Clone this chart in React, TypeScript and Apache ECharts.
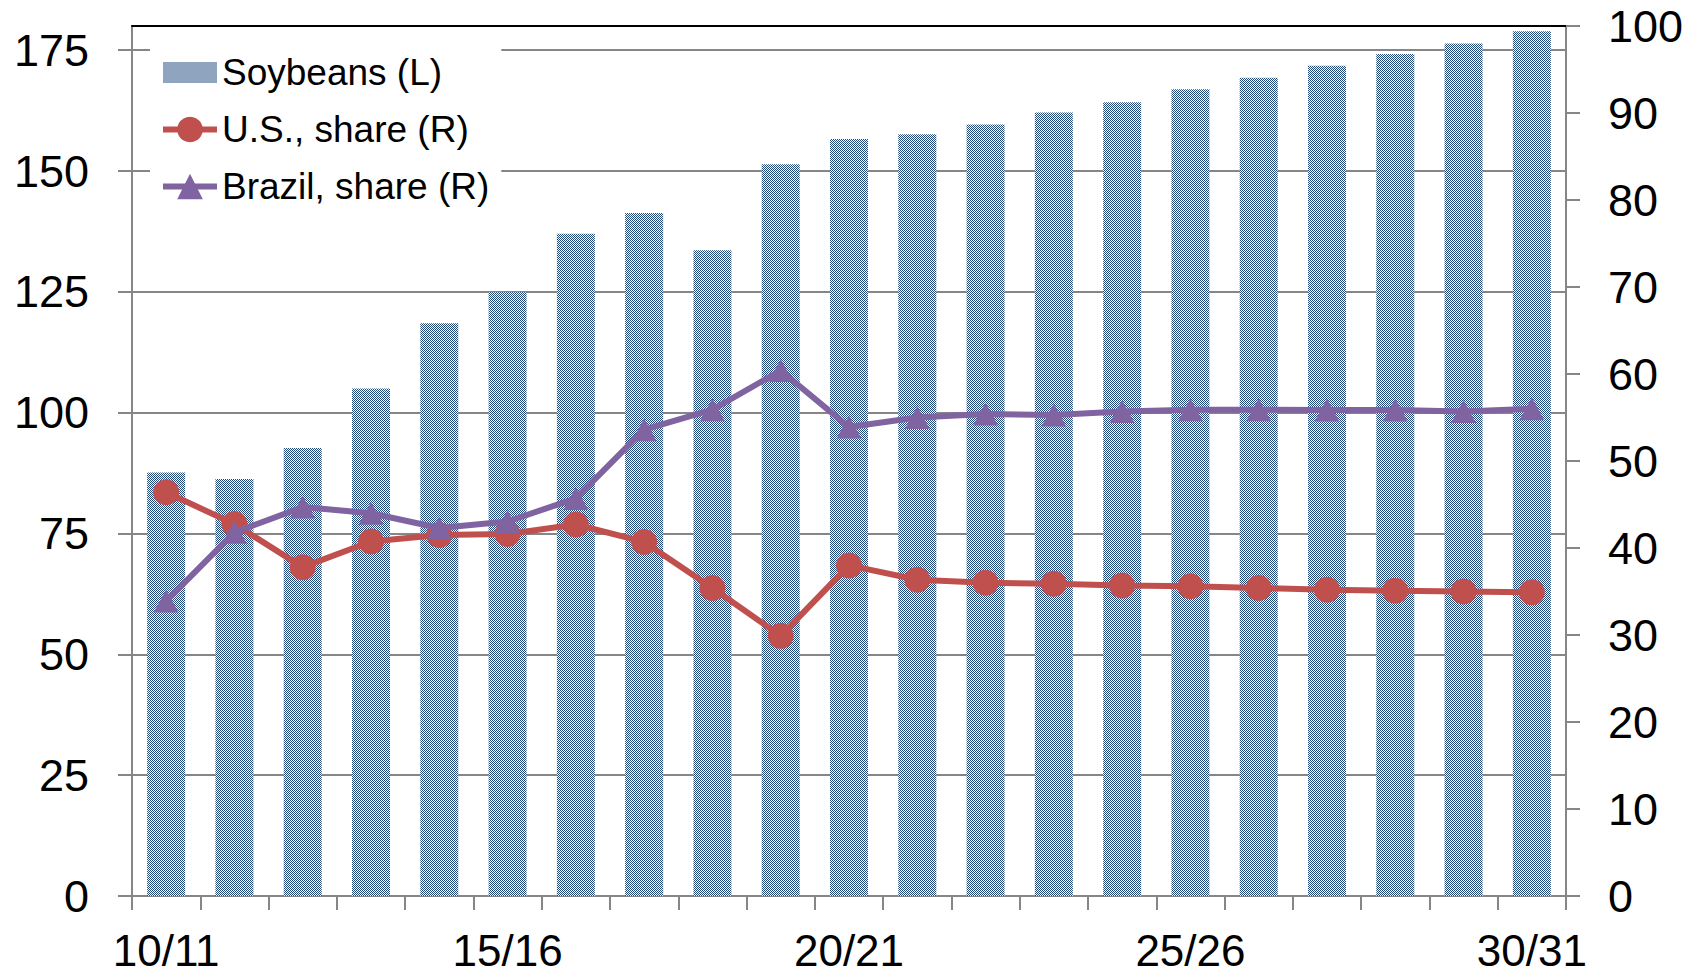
import React, { useEffect, useRef } from "react";
import * as echarts from "echarts";

const categories = [
  "10/11", "11/12", "12/13", "13/14", "14/15", "15/16", "16/17", "17/18", "18/19", "19/20", "20/21",
  "21/22", "22/23", "23/24", "24/25", "25/26", "26/27", "27/28", "28/29", "29/30", "30/31",
];
const soybeans = [
  87.6, 86.3, 92.7, 105.0, 118.5, 124.9, 137.0, 141.3, 133.6, 151.4, 156.6,
  157.6, 159.6, 162.1, 164.2, 166.9, 169.3, 171.8, 174.2, 176.4, 178.9,
];
const usShare = [
  46.4, 42.75, 37.8, 40.75, 41.5, 41.6, 42.7, 40.7, 35.4, 29.9, 38.0,
  36.35, 36.0, 35.9, 35.7, 35.6, 35.4, 35.2, 35.1, 35.0, 34.9,
];
const brazilShare = [
  33.9, 41.8, 44.7, 44.0, 42.3, 43.05, 45.7, 53.6, 55.9, 60.4, 53.9,
  55.0, 55.4, 55.3, 55.7, 55.9, 55.9, 55.85, 55.85, 55.7, 56.0,
];
const leftTicks = [0, 25, 50, 75, 100, 125, 150, 175];
const rightTicks = [0, 10, 20, 30, 40, 50, 60, 70, 80, 90, 100];

const FONT = "'Liberation Sans', Arial, sans-serif";

function makePattern(): HTMLCanvasElement {
  const c = document.createElement("canvas");
  c.width = 2;
  c.height = 2;
  const ctx = c.getContext("2d")!;
  ctx.fillStyle = "#ffffff";
  ctx.fillRect(0, 0, 2, 2);
  ctx.fillStyle = "#1F497D";
  ctx.fillRect(0, 0, 1, 1);
  ctx.fillRect(1, 1, 1, 1);
  return c;
}

export default function App() {
  const ref = useRef<HTMLDivElement>(null);

  useEffect(() => {
    document.body.style.margin = "0";
    if (!ref.current) return;
    const chart = echarts.init(ref.current, undefined, { renderer: "svg" });
    const pattern = { image: makePattern(), repeat: "repeat" };
    const gray = "#868686";

    chart.setOption({
      animation: false,
      backgroundColor: "#ffffff",
      grid: { left: 132, right: 132, top: 26, bottom: 79, containLabel: false },
      legend: {
        orient: "vertical",
        left: 150,
        top: 46,
        padding: [8, 12, 8, 10],
        itemGap: 20,
        itemWidth: 54,
        itemHeight: 32,
        backgroundColor: "#ffffff",
        lineStyle: { width: 6 },
        textStyle: { fontFamily: FONT, fontSize: 37, color: "#000" },
        data: [
          { name: "Soybeans (L)", icon: "path://M0,0H52V20H0Z" },
          { name: "U.S., share (R)" },
          { name: "Brazil, share (R)" },
        ],
      },
      xAxis: [
        {
          type: "category",
          data: categories,
          position: "bottom",
          boundaryGap: true,
          axisLine: { show: true, onZero: false, lineStyle: { color: gray, width: 2 } },
          axisTick: { show: true, interval: 0, length: 14, inside: false, lineStyle: { color: gray, width: 2 } },
          axisLabel: { interval: 4, margin: 32, fontFamily: FONT, fontSize: 44, color: "#000" },
          splitLine: { show: false },
        },
        {
          type: "category",
          data: categories,
          position: "top",
          axisLine: { show: true, onZero: false, lineStyle: { color: "#000", width: 2 } },
          axisTick: { show: false },
          axisLabel: { show: false },
          splitLine: { show: false },
        },
      ],
      yAxis: [
        {
          type: "value",
          min: 0,
          max: 180,
          interval: 25,
          position: "left",
          axisLine: { show: true, lineStyle: { color: gray, width: 2 } },
          axisTick: { show: true, length: 14, lineStyle: { color: gray, width: 2 }, customValues: leftTicks },
          axisLabel: { margin: 43, fontFamily: FONT, fontSize: 45, color: "#000", customValues: leftTicks },
          splitLine: { show: true, lineStyle: { color: gray, width: 2 } },
        },
        {
          type: "value",
          min: 0,
          max: 100,
          interval: 10,
          position: "right",
          axisLine: { show: true, lineStyle: { color: gray, width: 2 } },
          axisTick: { show: true, length: 14, lineStyle: { color: gray, width: 2 }, customValues: rightTicks },
          axisLabel: { margin: 42, fontFamily: FONT, fontSize: 45, color: "#000", customValues: rightTicks },
          splitLine: { show: false },
        },
      ],
      series: [
        {
          name: "Soybeans (L)",
          type: "bar",
          data: soybeans,
          xAxisIndex: 0,
          yAxisIndex: 0,
          barWidth: 38,
          itemStyle: { color: pattern },
          z: 2,
        },
        {
          name: "U.S., share (R)",
          type: "line",
          data: usShare,
          xAxisIndex: 0,
          yAxisIndex: 1,
          symbol: "circle",
          symbolSize: 26,
          lineStyle: { color: "#C0504D", width: 6 },
          itemStyle: { color: "#C0504D" },
          z: 3,
        },
        {
          name: "Brazil, share (R)",
          type: "line",
          data: brazilShare,
          xAxisIndex: 0,
          yAxisIndex: 1,
          symbol: "triangle",
          symbolSize: [25, 23],
          lineStyle: { color: "#8064A2", width: 6 },
          itemStyle: { color: "#8064A2" },
          z: 4,
        },
      ],
    });

    return () => chart.dispose();
  }, []);

  return <div ref={ref} style={{ width: 1698, height: 975 }} />;
}
